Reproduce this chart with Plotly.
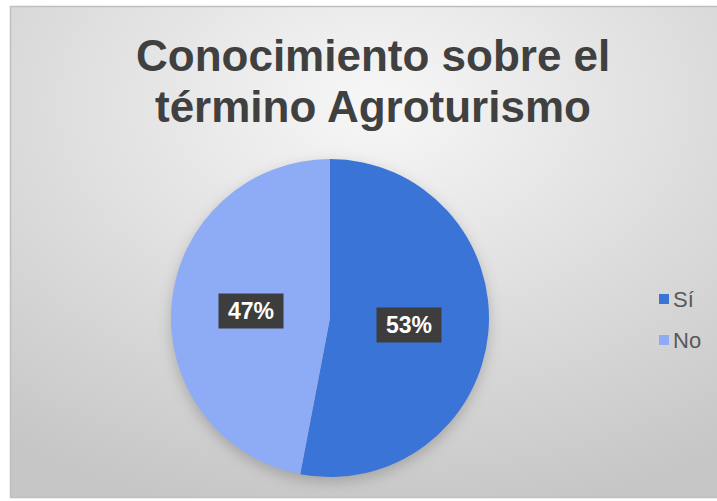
import base64
import numpy as np
import plotly.graph_objects as go

W, H = 717, 501

# datos
categorias = ["Sí", "No"]
porcentajes = [53, 47]
colores = ["#3A74D6", "#8EABF6"]
titulo = ["Conocimiento sobre el", "término Agroturismo"]

# geometria del pastel en px
pie_cx, pie_cy, pie_r = 330, 318, 159

def px_a_paper(x, y):
    return x / W, 1 - y / H

# fondo estilo Excel: degradado radial + sombra del pastel
fondo = f'''<svg xmlns="http://www.w3.org/2000/svg" width="{W}" height="{H}" viewBox="0 0 {W} {H}" preserveAspectRatio="none">
<defs>
<radialGradient id="g" cx="0.5" cy="0.2" r="0.85">
<stop offset="0" stop-color="#f7f7f7"/><stop offset="1" stop-color="#c6c6c6"/>
</radialGradient>
<filter id="s" x="-30%" y="-30%" width="160%" height="160%"><feGaussianBlur stdDeviation="7"/></filter>
</defs>
<rect width="{W}" height="{H}" fill="#ffffff"/>
<rect x="10.5" y="6.5" width="727" height="491" fill="url(#g)" stroke="#bfbfbf" stroke-width="1.5"/>
<circle cx="{pie_cx}" cy="{pie_cy + 5}" r="{pie_r}" fill="#000000" fill-opacity="0.2" filter="url(#s)"/>
</svg>'''
fondo_src = "data:image/svg+xml;base64," + base64.b64encode(fondo.encode()).decode()

fig = go.Figure()
fig.add_trace(go.Pie(
    labels=categorias,
    values=porcentajes,
    sort=False,
    direction="clockwise",
    rotation=0,
    textinfo="none",
    hoverinfo="label+percent",
    marker=dict(colors=colores, line=dict(width=0)),
    domain=dict(
        x=[(pie_cx - pie_r) / W, (pie_cx + pie_r) / W],
        y=[1 - (pie_cy + pie_r) / H, 1 - (pie_cy - pie_r) / H],
    ),
    showlegend=False,
))

anotaciones = []

# etiquetas de porcentaje a media distancia del radio
total = sum(porcentajes)
acum = 0
for val in porcentajes:
    medio = (acum + val / 2) / total * 2 * np.pi
    acum += val
    x = pie_cx + 0.5 * pie_r * np.sin(medio)
    y = pie_cy - 0.5 * pie_r * np.cos(medio)
    xp, yp = px_a_paper(x, y)
    anotaciones.append(dict(
        x=xp, y=yp, xref="paper", yref="paper", showarrow=False,
        text=f"{round(val / total * 100)}%",
        font=dict(family="Liberation Sans, Arial", size=23, color="white", weight="bold"),
        bgcolor="#3d3d3d", width=62, height=32, borderpad=1,
    ))

# titulo en dos lineas
for i, linea in enumerate(titulo):
    xp, yp = px_a_paper(373, 55 + i * 51)
    anotaciones.append(dict(
        x=xp, y=yp, xref="paper", yref="paper", showarrow=False,
        text=linea, xanchor="center", yanchor="middle",
        font=dict(family="Liberation Sans, Arial", size=44, color="#404040", weight="bold"),
    ))

# leyenda
formas = []
for i, (cat, col) in enumerate(zip(categorias, colores)):
    yc = 299 + i * 41
    x0, y0 = px_a_paper(659, yc + 5)
    x1, y1 = px_a_paper(669, yc - 5)
    formas.append(dict(type="rect", xref="paper", yref="paper",
                       x0=x0, y0=y0, x1=x1, y1=y1,
                       fillcolor=col, line=dict(width=0)))
    xt, yt = px_a_paper(671, yc)
    anotaciones.append(dict(
        x=xt, y=yt, xref="paper", yref="paper", showarrow=False,
        text=cat, xanchor="left", yanchor="middle",
        font=dict(family="Liberation Sans, Arial", size=22, color="#595959"),
    ))

fig.update_layout(
    width=W, height=H,
    margin=dict(l=0, r=0, t=0, b=0),
    paper_bgcolor="white",
    annotations=anotaciones,
    shapes=formas,
    images=[dict(source=fondo_src, xref="paper", yref="paper", x=0, y=1,
                 sizex=1, sizey=1, xanchor="left", yanchor="top",
                 sizing="stretch", layer="below")],
)

# sin margen del body para que la figura empiece en (0, 0)
fig.write_html("out.html", config={"displayModeBar": False},
               post_script="document.body.style.margin='0';")
